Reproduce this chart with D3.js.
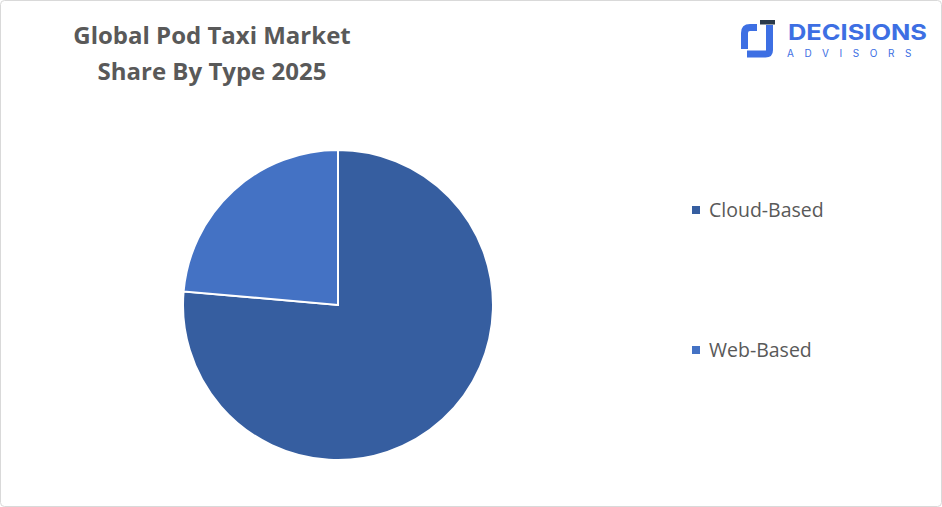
<!DOCTYPE html>
<html><head><meta charset="utf-8">
<script src="https://cdn.jsdelivr.net/npm/d3@7"></script>
<style>body{margin:0;background:#fff;}svg{display:block;}</style>
</head><body>
<svg id="c" width="942" height="507"></svg>
<script>
const categories = ["Cloud-Based", "Web-Based"];
const shares = [76.4, 23.6];
const colors = ["#365EA0", "#4472C4"];
const titleLines = ["Global Pod Taxi Market", "Share By Type 2025"];

const svg = d3.select("#c");
svg.append("rect").attr("x",0.5).attr("y",0.5).attr("width",941).attr("height",506)
  .attr("rx",4).attr("fill","#fff").attr("stroke","#d9d9d9");

svg.selectAll("text.title").data(titleLines).join("text").attr("class","title")
  .attr("x",212).attr("y",(d,i)=>44+i*36).attr("text-anchor","middle")
  .attr("font-family","'Open Sans', sans-serif").attr("font-weight","bold")
  .attr("font-size",24).attr("fill","#595959").text(d=>d);

const data = categories.map((c,i)=>({c, v:shares[i], col:colors[i]}));
const pie = d3.pie().sort(null).value(d=>d.v);
const arc = d3.arc().innerRadius(0).outerRadius(155);
const g = svg.append("g").attr("transform","translate(338,305)");
g.selectAll("path").data(pie(data)).join("path")
  .attr("d",arc).attr("fill",d=>d.data.col).attr("stroke","#fff").attr("stroke-width",2);

const leg = svg.append("g");
const ly = d3.scalePoint().domain(categories).range([210,350]);
leg.selectAll("rect").data(data).join("rect")
  .attr("x",692).attr("y",d=>ly(d.c)-4).attr("width",8).attr("height",8).attr("fill",d=>d.col);
leg.selectAll("text").data(data).join("text")
  .attr("x",709).attr("y",d=>ly(d.c)+7)
  .attr("font-family","'Open Sans', sans-serif").attr("font-size",19.5).attr("fill","#595959")
  .text(d=>d.c);

// logo
const lg = svg.append("g");
const blue = "#3D6FE3";
lg.append("path").attr("fill","none").attr("stroke",blue).attr("stroke-width",7)
  .attr("d","M757,27.5 L750,27.5 Q744.5,27.5 744.5,33 L744.5,49");
lg.append("path").attr("fill","none").attr("stroke",blue).attr("stroke-width",7)
  .attr("d","M769.5,25 L769.5,50 Q769.5,54 765.5,54 L747,54");
lg.append("rect").attr("x",760).attr("y",20).attr("width",15).attr("height",4.5).attr("fill","#2b3a4a");
lg.append("text").attr("x",788).attr("y",39.5).attr("font-family","Inter, sans-serif")
  .attr("font-weight","bold").attr("font-size",22).attr("fill",blue)
  .attr("textLength",139).attr("lengthAdjust","spacingAndGlyphs").text("DECISIONS");
lg.append("text").attr("x",787).attr("y",57.3).attr("font-family","Inter, sans-serif")
  .attr("font-size",10).attr("fill",blue).attr("letter-spacing",10.6).text("ADVISORS");
</script>
</body></html>
